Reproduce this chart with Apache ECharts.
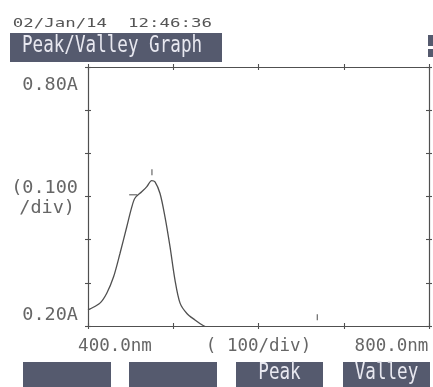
<!DOCTYPE html>
<html>
<head>
<meta charset="utf-8">
<script src="https://cdn.jsdelivr.net/npm/echarts@6/dist/echarts.min.js"></script>
<style>
html,body{margin:0;padding:0;background:#ffffff;}
#chart{width:433px;height:387px;}
</style>
</head>
<body>
<div id="chart"></div>
<script>
// ---- data ----
const wavelengths = [400, 402, 414, 422, 430, 437.5, 445.5, 451, 455, 463, 469, 474.7, 478.6, 484.5, 490.3, 496.2, 502, 508, 516, 525.5, 535, 540];
const absorbance  = [0.237, 0.239, 0.253, 0.276, 0.314, 0.368, 0.430, 0.473, 0.496, 0.511, 0.523, 0.537, 0.534, 0.507, 0.453, 0.384, 0.307, 0.253, 0.229, 0.214, 0.201, 0.196];
const peakMarkNm = [475];
const peakMarkA = [0.556];
const dashMarkNm = [453];
const dashMarkA = [0.504];
const valleyMarkNm = [669];
const valleyMarkA = [0.22];
const xLabelValues = [400, 600, 800];
const xLabelTexts = ['400.0nm', '( 100/div)', '800.0nm'];
const yLabelValues = [0.2, 0.5, 0.8];
const yLabelTexts = ['0.20A', '(0.100\n/div)', '0.80A'];
const headerDate = '02/Jan/14  12:46:36';
const headerTitle = 'Peak/Valley Graph';
const buttonLabels = ['', '', 'Peak', 'Valley'];

const ink = '#505050';
const txt = '#666666';
const bar = '#555a6e';
const barText = '#e8e8f0';
const mono = '"DejaVu Sans Mono", monospace';

const lineData = wavelengths.map((w, i) => [w, absorbance[i]]);

function xFmt(v) {
  const i = xLabelValues.indexOf(Math.round(v));
  if (i < 0) return '';
  const key = ['l', 'm', 'r'][i];
  return '{' + key + '|' + xLabelTexts[i] + '}';
}
function yFmt(v) {
  const i = yLabelValues.findIndex(x => Math.abs(x - v) < 1e-6);
  if (i < 0) return '';
  if (i === 1) {
    const parts = yLabelTexts[i].split('\n');
    return '{mid1|' + parts[0] + '}\n{mid2|' + parts[1] + '}';
  }
  const key = i === 0 ? 'lo' : 'hi';
  return '{' + key + '|' + yLabelTexts[i] + '}';
}

const axisLine = { show: true, onZero: false, lineStyle: { color: ink, width: 1.2 } };
function xAx(pos, inside, labels, line) {
  return {
    type: 'value', position: pos, min: 400, max: 800, interval: 100,
    axisLine: line ? axisLine : { show: false },
    axisTick: { show: true, inside: inside, length: 3, lineStyle: { color: ink, width: 1.1 } },
    splitLine: { show: false },
    axisLabel: labels ? {
      show: true, formatter: xFmt, margin: 11, color: txt,
      fontFamily: mono, fontSize: 17.5,
      rich: {
        l: { fontFamily: mono, fontSize: 17.5, color: txt, padding: [0, 0, 0, 54] },
        m: { fontFamily: mono, fontSize: 17.5, color: txt },
        r: { fontFamily: mono, fontSize: 17.5, color: txt, padding: [0, 75, 0, 0] }
      }
    } : { show: false }
  };
}
function yAx(pos, inside, labels, line) {
  return {
    type: 'value', position: pos, min: 0.2, max: 0.8, interval: 0.1,
    axisLine: line ? axisLine : { show: false },
    axisTick: { show: true, inside: inside, length: 3, lineStyle: { color: ink, width: 1.1 } },
    splitLine: { show: false },
    axisLabel: labels ? {
      show: true, formatter: yFmt, margin: 10, color: txt,
      fontFamily: mono, fontSize: 18.5,
      rich: {
        hi: { fontFamily: mono, fontSize: 18.5, color: txt, padding: [36, 0, 0, 0] },
        mid1: { fontFamily: mono, fontSize: 18.5, color: txt, lineHeight: 24, padding: [8, 0, 0, 0] },
        mid2: { fontFamily: mono, fontSize: 18.5, color: txt, lineHeight: 24, padding: [0, 3, 0, 0] },
        lo: { fontFamily: mono, fontSize: 18.5, color: txt, padding: [0, 0, 21, 0] }
      }
    } : { show: false }
  };
}

function btn(x, w, label) {
  const g = [{ type: 'rect', shape: { x: x, y: 362, width: w, height: 25 }, style: { fill: bar } }];
  if (label) g.push({
    type: 'text', x: x + w / 2, y: 373.5, scaleX: 1, scaleY: 1.3,
    style: { text: label, font: '17.6px ' + mono, fill: barText, align: 'center', verticalAlign: 'middle', textAlign: 'center', textVerticalAlign: 'middle' }
  });
  return g;
}

const chart = echarts.init(document.getElementById('chart'), null, { renderer: 'canvas' });
chart.setOption({
  backgroundColor: '#ffffff',
  animation: false,
  grid: { left: 88, right: 4, top: 67, bottom: 61, containLabel: false },
  xAxis: [xAx('bottom', false, true, true), xAx('bottom', true, false, false), xAx('top', true, false, true), xAx('top', false, false, false)],
  yAxis: [yAx('left', false, true, true), yAx('left', true, false, false), yAx('right', true, false, true), yAx('right', false, false, false)],
  graphic: [
    { type: 'text', x: 12.7, y: 23.5, scaleX: 1.34, scaleY: 1,
      style: { text: headerDate, font: '13px ' + mono, fill: '#555555', verticalAlign: 'middle', textVerticalAlign: 'middle' } },
    { type: 'rect', shape: { x: 10, y: 33, width: 212, height: 29 }, style: { fill: bar } },
    { type: 'text', x: 22, y: 46, scaleX: 1, scaleY: 1.3,
      style: { text: headerTitle, font: '17.6px ' + mono, fill: barText, verticalAlign: 'middle', textVerticalAlign: 'middle' } },
    { type: 'rect', shape: { x: 428, y: 35, width: 5, height: 11 }, style: { fill: bar } },
    { type: 'rect', shape: { x: 428, y: 49, width: 5, height: 8 }, style: { fill: bar } }
  ].concat(btn(23, 88, buttonLabels[0]), btn(129, 88, buttonLabels[1]), btn(236, 87, buttonLabels[2]), btn(343, 87, buttonLabels[3])),
  series: [
    {
      type: 'line', data: lineData, xAxisIndex: 0, yAxisIndex: 0,
      showSymbol: false, smooth: 0.3, clip: true,
      lineStyle: { color: ink, width: 1.3 }
    },
    {
      type: 'scatter', xAxisIndex: 0, yAxisIndex: 0,
      data: peakMarkNm.map((w, i) => [w, peakMarkA[i]]).concat(valleyMarkNm.map((w, i) => [w, valleyMarkA[i]])),
      symbol: 'rect', symbolSize: [1.3, 6], itemStyle: { color: ink }
    },
    {
      type: 'scatter', xAxisIndex: 0, yAxisIndex: 0,
      data: dashMarkNm.map((w, i) => [w, dashMarkA[i]]),
      symbol: 'rect', symbolSize: [8, 1.3], itemStyle: { color: ink }
    }
  ]
});
</script>
</body>
</html>
